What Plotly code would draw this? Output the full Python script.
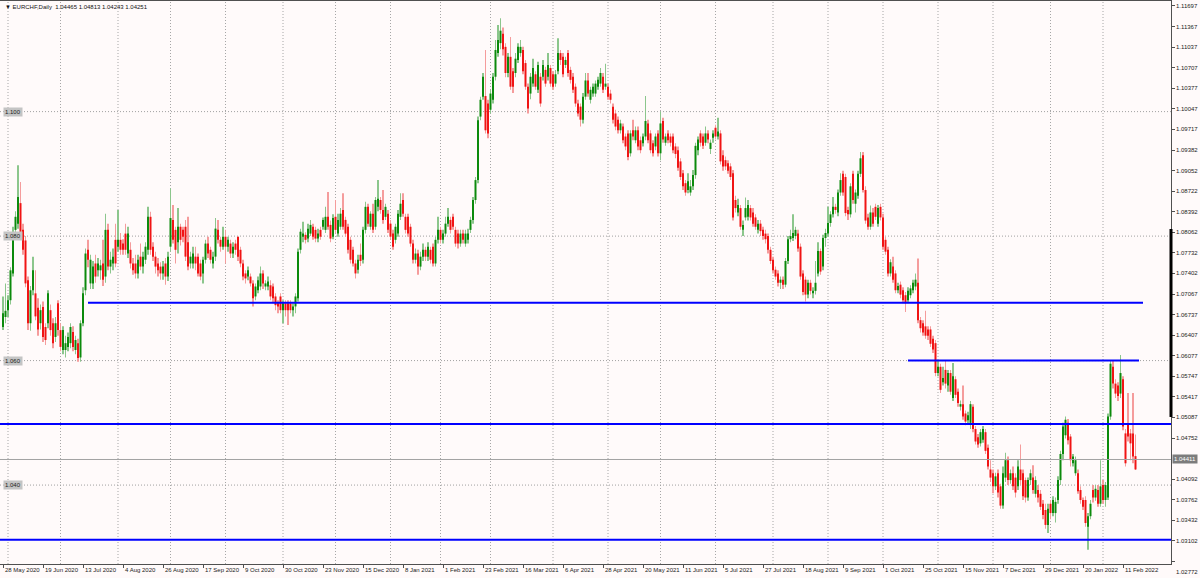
import plotly.graph_objects as go

# ---------------- data (EURCHF daily) ----------------
open_ = [
 1.0654,1.0670,1.0681,1.0697,1.0740,1.0810,1.0820,1.0853,1.0810,1.0793,
 1.0729,1.0660,1.0713,1.0708,1.0685,1.0660,1.0686,1.0654,1.0660,1.0681,
 1.0660,1.0638,1.0692,1.0649,1.0617,1.0617,1.0622,1.0628,1.0646,1.0617,
 1.0628,1.0605,1.0660,1.0713,1.0778,1.0724,1.0724,1.0756,1.0745,1.0745,
 1.0756,1.0735,1.0810,1.0751,1.0756,1.0794,1.0783,1.0794,1.0788,1.0804,
 1.0772,1.0778,1.0756,1.0756,1.0740,1.0767,1.0751,1.0762,1.0778,1.0831,
 1.0783,1.0767,1.0756,1.0751,1.0740,1.0756,1.0735,1.0783,1.0826,1.0810,
 1.0790,1.0815,1.0810,1.0815,1.0790,1.0756,1.0756,1.0767,1.0767,1.0756,
 1.0740,1.0762,1.0788,1.0778,1.0756,1.0767,1.0810,1.0794,1.0783,1.0799,
 1.0783,1.0788,1.0772,1.0788,1.0799,1.0778,1.0756,1.0740,1.0735,1.0735,
 1.0724,1.0703,1.0713,1.0719,1.0740,1.0719,1.0719,1.0721,1.0719,1.0703,
 1.0692,1.0703,1.0681,1.0692,1.0692,1.0692,1.0681,1.0687,1.0700,1.0778,
 1.0799,1.0802,1.0796,1.0804,1.0815,1.0810,1.0796,1.0810,1.0815,1.0810,
 1.0831,1.0818,1.0799,1.0831,1.0804,1.0815,1.0842,1.0826,1.0815,1.0794,
 1.0778,1.0756,1.0746,1.0770,1.0762,1.0810,1.0847,1.0815,1.0836,1.0815,
 1.0847,1.0858,1.0842,1.0831,1.0836,1.0820,1.0804,1.0794,1.0804,1.0831,
 1.0858,1.0831,1.0831,1.0815,1.0788,1.0762,1.0772,1.0751,1.0767,1.0778,
 1.0767,1.0778,1.0783,1.0756,1.0794,1.0810,1.0794,1.0804,1.0820,1.0826,
 1.0831,1.0810,1.0804,1.0788,1.0804,1.0788,1.0794,1.0810,1.0826,1.0858,
 1.0890,1.0992,1.1024,1.1025,1.1013,1.1003,1.1019,1.1056,1.1094,1.1110,
 1.1125,1.1104,1.1062,1.1088,1.1065,1.1062,1.1083,1.1094,1.1099,1.1078,
 1.1040,1.1029,1.1045,1.1060,1.1035,1.1056,1.1056,1.1067,1.1056,1.1070,
 1.1060,1.1045,1.1065,1.1094,1.1088,1.1075,1.1094,1.1067,1.1056,1.1040,
 1.1013,1.1008,1.0987,1.1024,1.1050,1.1019,1.1029,1.1029,1.1040,1.1045,
 1.1056,1.1040,1.1040,1.1029,1.1008,1.0997,1.0987,1.0970,1.0976,1.0960,
 1.0965,1.0933,1.0970,1.0954,1.0970,1.0954,1.0949,1.0960,1.0981,1.0965,
 1.0949,1.0944,1.0965,1.0933,1.0985,1.0950,1.0965,1.0960,1.0960,1.0944,
 1.0938,1.0920,1.0901,1.0885,1.0874,1.0870,1.0880,1.0898,1.0938,1.0965,
 1.0960,1.0950,1.0965,1.0940,1.0958,1.0974,1.0960,1.0965,1.0930,1.0922,
 1.0917,1.0912,1.0901,1.0858,1.0838,1.0845,1.0810,1.0830,1.0831,1.0845,
 1.0838,1.0830,1.0810,1.0820,1.0810,1.0804,1.0800,1.0778,1.0762,1.0746,
 1.0740,1.0725,1.0730,1.0722,1.0760,1.0795,1.0797,1.0800,1.0804,1.0783,
 1.0740,1.0730,1.0706,1.0725,1.0708,1.0712,1.0740,1.0776,1.0751,1.0797,
 1.0804,1.0821,1.0835,1.0847,1.0838,1.0870,1.0900,1.0895,1.0842,1.0835,
 1.0900,1.0852,1.0865,1.0900,1.0930,1.0874,1.0830,1.0815,1.0838,1.0847,
 1.0820,1.0847,1.0830,1.0794,1.0778,1.0740,1.0751,1.0740,1.0713,1.0722,
 1.0713,1.0705,1.0697,1.0705,1.0713,1.0719,1.0725,1.0665,1.0660,1.0655,
 1.0650,1.0650,1.0635,1.0628,1.0580,1.0590,1.0565,1.0585,1.0560,1.0580,
 1.0540,1.0570,1.0550,1.0526,1.0530,1.0515,1.0504,1.0500,1.0526,1.0490,
 1.0477,1.0467,1.0473,1.0485,1.0460,1.0425,1.0419,1.0398,1.0419,1.0398,
 1.0367,1.0412,1.0440,1.0408,1.0419,1.0412,1.0398,1.0425,1.0419,1.0408,
 1.0380,1.0408,1.0412,1.0386,1.0392,1.0386,1.0370,1.0360,1.0336,1.0370,
 1.0355,1.0355,1.0376,1.0408,1.0450,1.0480,1.0500,1.0478,1.0435,1.0419,
 1.0419,1.0392,1.0376,1.0376,1.0333,1.0350,1.0392,1.0380,1.0392,1.0370,
 1.0400,1.0376,1.0380,1.0510,1.0590,1.0563,1.0560,1.0547,1.0570,1.0483,
 1.0499,1.0483,1.0483,1.04465,
]
high = [
 1.0703,1.0724,1.0705,1.0750,1.0815,1.0840,1.0914,1.0887,1.0820,1.0800,
 1.0735,1.0720,1.0767,1.0745,1.0700,1.0690,1.0695,1.0660,1.0713,1.0690,
 1.0668,1.0670,1.0697,1.0660,1.0655,1.0640,1.0645,1.0660,1.0655,1.0640,
 1.0635,1.0665,1.0718,1.0780,1.0794,1.0770,1.0760,1.0770,1.0765,1.0762,
 1.0794,1.0836,1.0820,1.0775,1.0780,1.0820,1.0842,1.0805,1.0795,1.0820,
 1.0815,1.0790,1.0765,1.0770,1.0770,1.0788,1.0775,1.0790,1.0847,1.0839,
 1.0790,1.0775,1.0765,1.0758,1.0760,1.0765,1.0775,1.0877,1.0850,1.0815,
 1.0845,1.0820,1.0815,1.0826,1.0831,1.0775,1.0783,1.0783,1.0772,1.0762,
 1.0767,1.0794,1.0799,1.0783,1.0775,1.0829,1.0826,1.0799,1.0815,1.0810,
 1.0799,1.0794,1.0790,1.0794,1.0799,1.0783,1.0762,1.0745,1.0751,1.0740,
 1.0729,1.0724,1.0735,1.0751,1.0745,1.0729,1.0735,1.0729,1.0724,1.0708,
 1.0697,1.0708,1.0697,1.0697,1.0697,1.0697,1.0692,1.0708,1.0780,1.0812,
 1.0823,1.0806,1.0820,1.0826,1.0820,1.0815,1.0812,1.0815,1.0830,1.0847,
 1.0871,1.0825,1.0835,1.0858,1.0836,1.0845,1.0869,1.0831,1.0820,1.0799,
 1.0783,1.0762,1.0770,1.0788,1.0815,1.0855,1.0852,1.0840,1.0852,1.0863,
 1.0890,1.0863,1.0874,1.0852,1.0842,1.0826,1.0810,1.0820,1.0842,1.0869,
 1.0869,1.0836,1.0836,1.0820,1.0794,1.0780,1.0778,1.0775,1.0788,1.0783,
 1.0790,1.0783,1.0788,1.0799,1.0831,1.0815,1.0810,1.0831,1.0845,1.0831,
 1.0836,1.0815,1.0810,1.0810,1.0810,1.0810,1.0812,1.0831,1.0863,1.0895,
 1.0992,1.1024,1.1062,1.1099,1.1019,1.1035,1.1062,1.1115,1.1139,1.1150,
 1.1135,1.1110,1.1094,1.1120,1.1070,1.1094,1.1110,1.1115,1.1104,1.1083,
 1.1045,1.1062,1.1085,1.1065,1.1080,1.1062,1.1083,1.1072,1.1094,1.1075,
 1.1065,1.1067,1.1118,1.1099,1.1094,1.1088,1.1099,1.1072,1.1062,1.1045,
 1.1019,1.1013,1.1030,1.1062,1.1062,1.1040,1.1045,1.1050,1.1056,1.1070,
 1.1062,1.1077,1.1045,1.1035,1.1013,1.1003,1.0992,1.0987,1.0981,1.0965,
 1.0970,1.0970,1.0987,1.0976,1.0976,1.0960,1.0965,1.1025,1.0987,1.0970,
 1.0954,1.0965,1.0970,1.1000,1.0990,1.0965,1.0970,1.0965,1.0965,1.0949,
 1.0944,1.0925,1.0906,1.0890,1.0901,1.0890,1.0906,1.0950,1.0960,1.0970,
 1.0965,1.0976,1.0970,1.0955,1.0970,1.0979,1.0990,1.0970,1.0938,1.0928,
 1.0922,1.0917,1.0906,1.0865,1.0860,1.0850,1.0825,1.0862,1.0858,1.0850,
 1.0845,1.0835,1.0826,1.0826,1.0815,1.0810,1.0804,1.0783,1.0767,1.0751,
 1.0745,1.0735,1.0735,1.0765,1.0800,1.0810,1.0835,1.0815,1.0810,1.0788,
 1.0745,1.0735,1.0730,1.0730,1.0718,1.0760,1.0790,1.0780,1.0802,1.0812,
 1.0847,1.0840,1.0863,1.0852,1.0875,1.0901,1.0905,1.0900,1.0847,1.0885,
 1.0905,1.0875,1.0905,1.0935,1.0935,1.0880,1.0836,1.0849,1.0845,1.0852,
 1.0850,1.0852,1.0836,1.0799,1.0783,1.0763,1.0767,1.0745,1.0725,1.0727,
 1.0718,1.0710,1.0718,1.0721,1.0730,1.0740,1.0764,1.0670,1.0665,1.0680,
 1.0655,1.0655,1.0640,1.0633,1.0601,1.0595,1.0590,1.0601,1.0585,1.0585,
 1.0596,1.0575,1.0555,1.0536,1.0560,1.0520,1.0518,1.0535,1.0530,1.0495,
 1.0482,1.0490,1.0495,1.0490,1.0465,1.0440,1.0425,1.0420,1.0425,1.0402,
 1.0430,1.0452,1.0446,1.0425,1.0430,1.0419,1.0440,1.0465,1.0425,1.0412,
 1.0412,1.0425,1.0432,1.0414,1.0400,1.0392,1.0376,1.0370,1.0370,1.0376,
 1.0382,1.0380,1.0414,1.0455,1.0500,1.0510,1.0506,1.0482,1.0450,1.0446,
 1.0425,1.0398,1.0380,1.0382,1.0355,1.0376,1.0400,1.0400,1.0400,1.0440,
 1.0408,1.0405,1.0515,1.0601,1.0601,1.0570,1.0565,1.0609,1.0575,1.0490,
 1.0548,1.0490,1.0548,1.04813,
]
low = [
 1.0649,1.0660,1.0670,1.0690,1.0735,1.0800,1.0812,1.0795,1.0770,1.0718,
 1.0649,1.0648,1.0705,1.0665,1.0640,1.0650,1.0630,1.0625,1.0652,1.0640,
 1.0620,1.0630,1.0640,1.0615,1.0610,1.0605,1.0615,1.0620,1.0615,1.0610,
 1.0598,1.0598,1.0655,1.0705,1.0750,1.0715,1.0715,1.0725,1.0735,1.0730,
 1.0720,1.0725,1.0745,1.0740,1.0745,1.0750,1.0775,1.0770,1.0770,1.0770,
 1.0765,1.0748,1.0738,1.0732,1.0732,1.0745,1.0740,1.0755,1.0770,1.0770,
 1.0760,1.0740,1.0735,1.0730,1.0730,1.0722,1.0728,1.0775,1.0788,1.0756,
 1.0772,1.0785,1.0790,1.0760,1.0745,1.0748,1.0748,1.0745,1.0735,1.0729,
 1.0724,1.0756,1.0765,1.0756,1.0748,1.0760,1.0788,1.0775,1.0778,1.0756,
 1.0775,1.0765,1.0765,1.0770,1.0760,1.0750,1.0729,1.0724,1.0729,1.0719,
 1.0687,1.0697,1.0708,1.0713,1.0715,1.0713,1.0713,1.0697,1.0692,1.0681,
 1.0676,1.0676,1.0660,1.0671,1.0657,1.0676,1.0671,1.0676,1.0695,1.0772,
 1.0790,1.0788,1.0790,1.0800,1.0794,1.0790,1.0790,1.0794,1.0810,1.0805,
 1.0810,1.0790,1.0795,1.0804,1.0799,1.0810,1.0810,1.0799,1.0772,1.0756,
 1.0751,1.0732,1.0740,1.0752,1.0756,1.0804,1.0815,1.0810,1.0805,1.0810,
 1.0840,1.0836,1.0820,1.0826,1.0805,1.0794,1.0778,1.0788,1.0799,1.0826,
 1.0831,1.0804,1.0799,1.0783,1.0756,1.0756,1.0738,1.0745,1.0760,1.0760,
 1.0760,1.0756,1.0751,1.0751,1.0788,1.0788,1.0788,1.0799,1.0815,1.0804,
 1.0810,1.0783,1.0780,1.0783,1.0788,1.0783,1.0788,1.0805,1.0820,1.0852,
 1.0885,1.0986,1.1019,1.0965,1.0957,1.0997,1.1013,1.1050,1.1088,1.1100,
 1.1090,1.1055,1.1055,1.1035,1.1030,1.1055,1.1078,1.1088,1.1060,1.1035,
 1.0997,1.1020,1.1040,1.1035,1.1030,1.1008,1.1050,1.1040,1.1050,1.1040,
 1.1035,1.1040,1.1060,1.1075,1.1055,1.1070,1.1056,1.1045,1.1030,1.1008,
 1.0992,1.0976,1.0981,1.1019,1.1024,1.1013,1.1024,1.1024,1.1035,1.1040,
 1.1030,1.1035,1.1019,1.1013,1.0981,1.0970,1.0965,1.0965,1.0949,1.0938,
 1.0922,1.0928,1.0954,1.0949,1.0938,1.0933,1.0944,1.0954,1.0949,1.0933,
 1.0928,1.0938,1.0928,1.0922,1.0950,1.0945,1.0949,1.0944,1.0933,1.0925,
 1.0905,1.0890,1.0874,1.0865,1.0869,1.0865,1.0874,1.0892,1.0930,1.0944,
 1.0940,1.0945,1.0949,1.0932,1.0950,1.0955,1.0955,1.0915,1.0905,1.0906,
 1.0900,1.0890,1.0825,1.0838,1.0832,1.0810,1.0800,1.0825,1.0825,1.0825,
 1.0815,1.0810,1.0804,1.0800,1.0794,1.0788,1.0772,1.0755,1.0740,1.0730,
 1.0719,1.0715,1.0715,1.0718,1.0755,1.0790,1.0792,1.0795,1.0775,1.0730,
 1.0705,1.0695,1.0700,1.0706,1.0700,1.0706,1.0735,1.0738,1.0745,1.0783,
 1.0799,1.0815,1.0830,1.0836,1.0832,1.0865,1.0865,1.0832,1.0826,1.0830,
 1.0852,1.0838,1.0860,1.0895,1.0870,1.0820,1.0810,1.0810,1.0815,1.0826,
 1.0815,1.0825,1.0778,1.0770,1.0735,1.0735,1.0725,1.0708,1.0708,1.0700,
 1.0692,1.0678,1.0692,1.0700,1.0708,1.0713,1.0660,1.0645,1.0640,1.0635,
 1.0633,1.0622,1.0612,1.0575,1.0575,1.0548,1.0560,1.0555,1.0550,1.0545,
 1.0535,1.0540,1.0526,1.0520,1.0505,1.0496,1.0498,1.0490,1.0485,1.0465,
 1.0460,1.0462,1.0468,1.0450,1.0425,1.0405,1.0387,1.0392,1.0380,1.0362,
 1.0362,1.0405,1.0400,1.0402,1.0392,1.0380,1.0392,1.0400,1.0376,1.0372,
 1.0375,1.0400,1.0386,1.0380,1.0372,1.0360,1.0345,1.0330,1.0323,1.0345,
 1.0350,1.0340,1.0370,1.0400,1.0440,1.0475,1.0465,1.0430,1.0430,1.0415,
 1.0386,1.0370,1.0360,1.0333,1.0296,1.0345,1.0372,1.0375,1.0365,1.0365,
 1.0370,1.0365,1.0376,1.0505,1.0555,1.0540,1.0535,1.0540,1.0488,1.0430,
 1.0470,1.0440,1.0435,1.04243,
]
close = [
 1.0676,1.0680,1.0697,1.0745,1.0794,1.0831,1.0863,1.0805,1.0778,1.0724,
 1.0660,1.0713,1.0745,1.0671,1.0650,1.0681,1.0638,1.0633,1.0708,1.0649,
 1.0628,1.0660,1.0649,1.0622,1.0649,1.0628,1.0638,1.0654,1.0622,1.0633,
 1.0604,1.0660,1.0708,1.0772,1.0762,1.0762,1.0751,1.0735,1.0756,1.0753,
 1.0730,1.0810,1.0751,1.0762,1.0767,1.0756,1.0794,1.0778,1.0778,1.0778,
 1.0804,1.0756,1.0745,1.0740,1.0762,1.0751,1.0767,1.0783,1.0831,1.0778,
 1.0767,1.0751,1.0745,1.0740,1.0751,1.0735,1.0767,1.0829,1.0794,1.0778,
 1.0815,1.0794,1.0799,1.0767,1.0751,1.0767,1.0772,1.0756,1.0740,1.0735,
 1.0762,1.0788,1.0772,1.0762,1.0767,1.0812,1.0794,1.0783,1.0799,1.0783,
 1.0794,1.0772,1.0783,1.0778,1.0767,1.0756,1.0735,1.0732,1.0745,1.0724,
 1.0700,1.0719,1.0729,1.0740,1.0724,1.0724,1.0727,1.0703,1.0700,1.0689,
 1.0687,1.0681,1.0692,1.0681,1.0681,1.0681,1.0687,1.0703,1.0775,1.0807,
 1.0804,1.0794,1.0812,1.0818,1.0799,1.0796,1.0804,1.0799,1.0826,1.0831,
 1.0815,1.0796,1.0829,1.0810,1.0826,1.0836,1.0815,1.0804,1.0778,1.0762,
 1.0756,1.0740,1.0762,1.0760,1.0810,1.0847,1.0820,1.0836,1.0810,1.0858,
 1.0860,1.0842,1.0826,1.0847,1.0810,1.0799,1.0783,1.0815,1.0836,1.0852,
 1.0836,1.0810,1.0804,1.0788,1.0762,1.0772,1.0751,1.0767,1.0778,1.0767,
 1.0783,1.0762,1.0756,1.0794,1.0810,1.0794,1.0804,1.0820,1.0831,1.0810,
 1.0815,1.0788,1.0788,1.0804,1.0794,1.0804,1.0804,1.0826,1.0858,1.0890,
 1.0986,1.1019,1.1056,1.0970,1.0965,1.1029,1.1056,1.1099,1.1115,1.1130,
 1.1100,1.1062,1.1088,1.1040,1.1040,1.1085,1.1104,1.1104,1.1065,1.1040,
 1.1005,1.1056,1.1070,1.1040,1.1075,1.1013,1.1075,1.1045,1.1075,1.1045,
 1.1040,1.1060,1.1094,1.1083,1.1060,1.1083,1.1062,1.1051,1.1035,1.1013,
 1.0997,1.0987,1.1024,1.1050,1.1029,1.1035,1.1040,1.1045,1.1051,1.1062,
 1.1035,1.1045,1.1024,1.1019,1.0987,1.0976,1.0970,1.0981,1.0954,1.0944,
 1.0927,1.0965,1.0960,1.0970,1.0944,1.0938,1.0960,1.0985,1.0954,1.0938,
 1.0933,1.0960,1.0933,1.0981,1.0955,1.0960,1.0954,1.0950,1.0938,1.0932,
 1.0910,1.0895,1.0880,1.0870,1.0888,1.0880,1.0898,1.0945,1.0955,1.0950,
 1.0945,1.0965,1.0955,1.0950,1.0965,1.0960,1.0968,1.0920,1.0912,1.0912,
 1.0905,1.0895,1.0830,1.0845,1.0850,1.0815,1.0818,1.0845,1.0850,1.0830,
 1.0820,1.0815,1.0820,1.0808,1.0800,1.0795,1.0778,1.0760,1.0745,1.0735,
 1.0725,1.0730,1.0722,1.0760,1.0795,1.0800,1.0805,1.0810,1.0780,1.0735,
 1.0710,1.0706,1.0725,1.0712,1.0712,1.0725,1.0776,1.0743,1.0797,1.0805,
 1.0821,1.0835,1.0847,1.0842,1.0870,1.0890,1.0870,1.0837,1.0835,1.0880,
 1.0858,1.0870,1.0900,1.0925,1.0874,1.0825,1.0815,1.0838,1.0820,1.0831,
 1.0845,1.0830,1.0783,1.0775,1.0740,1.0758,1.0730,1.0713,1.0720,1.0706,
 1.0697,1.0692,1.0712,1.0716,1.0725,1.0730,1.0665,1.0652,1.0645,1.0640,
 1.0640,1.0627,1.0618,1.0580,1.0590,1.0553,1.0572,1.0563,1.0580,1.0550,
 1.0575,1.0545,1.0532,1.0530,1.0510,1.0502,1.0512,1.0530,1.0490,1.0470,
 1.0465,1.0485,1.0490,1.0455,1.0430,1.0412,1.0398,1.0414,1.0388,1.0367,
 1.0419,1.0440,1.0408,1.0419,1.0398,1.0388,1.0430,1.0408,1.0382,1.0380,
 1.0408,1.0419,1.0392,1.0408,1.0380,1.0365,1.0352,1.0336,1.0362,1.0355,
 1.0376,1.0373,1.0408,1.0450,1.0494,1.0505,1.0472,1.0440,1.0446,1.0440,
 1.0390,1.0376,1.0365,1.0339,1.0350,1.0370,1.0380,1.0394,1.0370,1.0398,
 1.0376,1.0400,1.0510,1.0595,1.0563,1.0547,1.0543,1.0580,1.0494,1.0435,
 1.0478,1.0467,1.0446,1.04251,
]

date_labels = ["28 May 2020", "19 Jun 2020", "13 Jul 2020", "4 Aug 2020", "26 Aug 2020",
               "17 Sep 2020", "9 Oct 2020", "30 Oct 2020", "23 Nov 2020", "15 Dec 2020",
               "8 Jan 2021", "1 Feb 2021", "23 Feb 2021", "16 Mar 2021", "6 Apr 2021",
               "28 Apr 2021", "20 May 2021", "11 Jun 2021", "5 Jul 2021", "27 Jul 2021",
               "18 Aug 2021", "9 Sep 2021", "1 Oct 2021", "25 Oct 2021", "15 Nov 2021",
               "7 Dec 2021", "29 Dec 2021", "20 Jan 2022", "11 Feb 2022"]

price_ticks = [1.11697, 1.11367, 1.11037, 1.10707, 1.10377, 1.10047, 1.09717, 1.09382,
               1.09052, 1.08722, 1.08392, 1.08062, 1.07732, 1.07402, 1.07067, 1.06737,
               1.06407, 1.06077, 1.05747, 1.05417, 1.05087, 1.04752, 1.04092, 1.03762,
               1.03432, 1.03102, 1.02772]

level_values = [1.100, 1.080, 1.060, 1.040]
level_labels = ["1.100", "1.080", "1.060", "1.040"]

blue_levels = [1.0693, 1.0600, 1.0498, 1.0312]
current_price = 1.04411
title_text = "EURCHF,Daily  1.04465 1.04813 1.04243 1.04251"

# ---------------- layout constants ----------------
W, H = 1200, 578
BG = "#fffafa"
FONT = "Liberation Sans"
LABEL_STEP = 16
month_grid_bars = [2, 23, 46, 67, 89, 112, 133, 155, 175, 195, 220, 242, 263, 285,
                   308, 330, 352, 374, 396, 419, 440]
blue_spans = [(34, 456), (362, 454.4), (None, None), (None, None)]
X_RANGE = [-1.2, 467.2]
Y_RANGE = [1.02732, 1.11777]

n = len(close)
xs = list(range(n))
up = [c >= o for o, c in zip(open_, close)]

body_up, body_dn = "#0c8a0c", "#f01414"
wick_up, wick_dn = "#8cc68c", "#f59c9c"

fig = go.Figure()
fig.add_trace(go.Bar(
    x=xs, base=low, y=[h - l for h, l in zip(high, low)], width=0.4,
    marker=dict(color=[wick_up if u else wick_dn for u in up], line=dict(width=0)),
    hoverinfo="skip", showlegend=False))
fig.add_trace(go.Bar(
    x=xs, base=[min(o, c) for o, c in zip(open_, close)],
    y=[max(abs(c - o), 0.00012) for o, c in zip(open_, close)], width=0.8,
    marker=dict(color=[body_up if u else body_dn for u in up], line=dict(width=0)),
    hoverinfo="skip", showlegend=False))

shapes = []
for b in month_grid_bars:
    shapes.append(dict(type="line", xref="x", yref="paper", x0=b, x1=b, y0=0, y1=1,
                       line=dict(color="#a6a6a6", width=1, dash="1px,2px"), layer="below"))
for v in level_values:
    shapes.append(dict(type="line", xref="paper", yref="y", x0=0, x1=1, y0=v, y1=v,
                       line=dict(color="#a0a0a0", width=1, dash="1px,2px"), layer="below"))
shapes.append(dict(type="line", xref="paper", yref="y", x0=0, x1=1, y0=current_price,
                   y1=current_price, line=dict(color="#a2a2a2", width=1), layer="above"))
for v, (a, b) in zip(blue_levels, blue_spans):
    if a is None:
        shapes.append(dict(type="line", xref="paper", yref="y", x0=0, x1=1, y0=v, y1=v,
                           line=dict(color="#0000ff", width=2), layer="above"))
    else:
        shapes.append(dict(type="line", xref="x", yref="y", x0=a, x1=b, y0=v, y1=v,
                           line=dict(color="#0000ff", width=2), layer="above"))
shapes.append(dict(type="line", xref="paper", yref="y", x0=1, x1=1, y0=1.05094, y1=1.08114,
                   line=dict(color="#000000", width=3), layer="above"))

annotations = []
for k, lab in enumerate(date_labels):
    annotations.append(dict(x=k * LABEL_STEP, y=0, xref="x", yref="paper", text=lab,
                            showarrow=False, xanchor="left", yanchor="top", xshift=0, yshift=-1,
                            font=dict(family=FONT, size=6, color="#222222")))
# price scale labels (the lowest one sits in the date row, as in the terminal)
for t in price_ticks:
    annotations.append(dict(x=1, y=t, xref="paper", yref="y", text="%.5f" % t,
                            showarrow=False, xanchor="left", yanchor="middle", xshift=3,
                            yshift=(-10 if t == price_ticks[-1] else 0),
                            font=dict(family=FONT, size=6, color="#222222")))
for v, lab in zip(level_values, level_labels):
    annotations.append(dict(x=0.0025, y=v, xref="paper", yref="y", text=lab, showarrow=False,
                            xanchor="left", yanchor="middle", bgcolor="#c4c4c4", borderpad=1,
                            font=dict(family=FONT, size=6, color="#222222")))
annotations.append(dict(x=1, y=current_price, xref="paper", yref="y", text="1.04411",
                        showarrow=False, xanchor="left", yanchor="middle", xshift=1,
                        bgcolor="#7c7c7c", borderpad=1,
                        font=dict(family=FONT, size=6, color="#ffffff")))
annotations.append(dict(x=0, y=1, xref="paper", yref="paper", text="\u25BC " + title_text,
                        showarrow=False, xanchor="left", yanchor="top", xshift=3, yshift=-1,
                        font=dict(family=FONT, size=6, color="#111111")))

fig.update_layout(
    width=W, height=H,
    margin=dict(l=0, r=29, t=1, b=14),
    paper_bgcolor=BG, plot_bgcolor=BG,
    barmode="overlay", showlegend=False,
    shapes=shapes, annotations=annotations,
    font=dict(family=FONT, size=6, color="#222222"),
    xaxis=dict(range=X_RANGE, showgrid=False, zeroline=False, showline=True, mirror=True,
               linecolor="#505050", linewidth=1, ticks="outside", ticklen=3,
               tickcolor="#505050", tickvals=[k * LABEL_STEP for k in range(len(date_labels))],
               showticklabels=False, fixedrange=True),
    yaxis=dict(range=Y_RANGE, side="right", showgrid=False, zeroline=False, showline=True,
               mirror=True, linecolor="#505050", linewidth=1, ticks="outside", ticklen=3,
               tickcolor="#505050", tickvals=price_ticks, showticklabels=False,
               fixedrange=True),
)

fig.write_html("out.html", config={"displayModeBar": False},
               post_script="document.body.style.margin='0px';document.body.style.overflow='hidden';")
